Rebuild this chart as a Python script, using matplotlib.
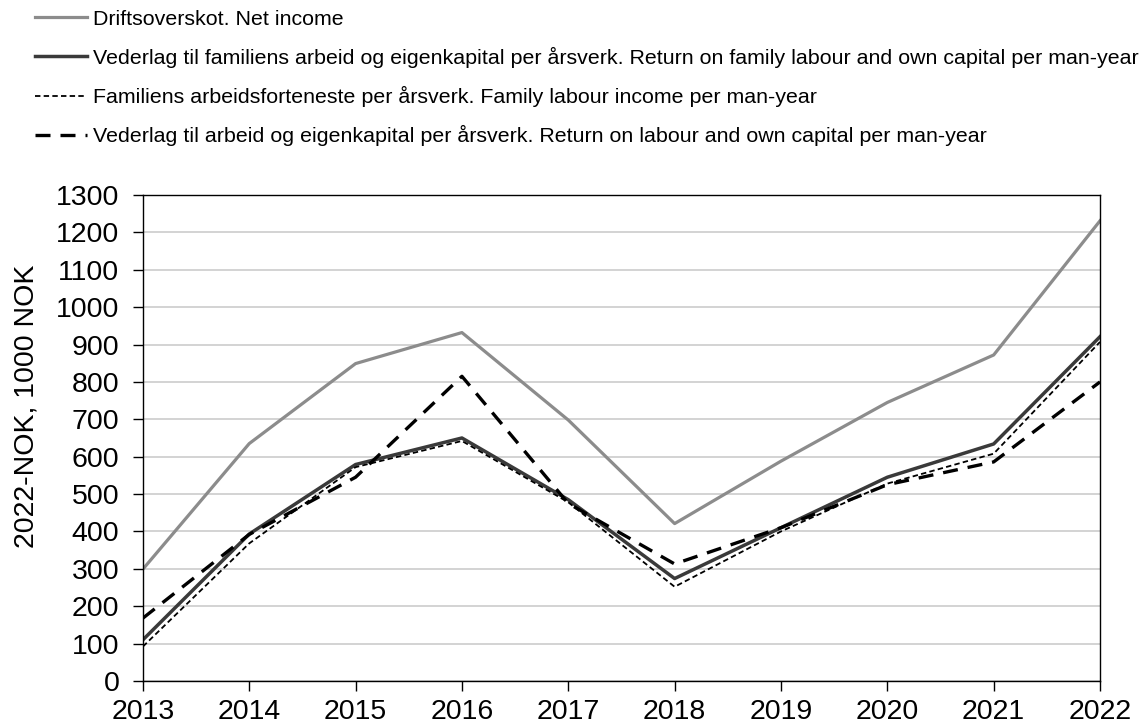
import matplotlib.pyplot as plt

plt.rcParams['font.family'] = ['Liberation Sans', 'DejaVu Sans']

years = [2013, 2014, 2015, 2016, 2017, 2018, 2019, 2020, 2021, 2022]
net_income = [299, 635, 849, 932, 698, 421, 588, 745, 872, 1231]
return_family = [110, 393, 579, 650, 485, 274, 410, 545, 634, 921]
family_labour = [92, 368, 572, 642, 478, 252, 400, 528, 608, 907]
return_labour = [168, 392, 545, 815, 475, 313, 410, 525, 586, 800]

labels = [
    "Driftsoverskot. Net income",
    "Vederlag til familiens arbeid og eigenkapital per årsverk. Return on family labour and own capital per man-year",
    "Familiens arbeidsforteneste per årsverk. Family labour income per man-year",
    "Vederlag til arbeid og eigenkapital per årsverk. Return on labour and own capital per man-year",
]

fig = plt.figure(figsize=(11.43, 7.27), dpi=100)
ax = fig.add_axes([0.125, 0.0633, 0.8374, 0.6685])

ax.plot(years, net_income, color='#8c8c8c', lw=2.3, label=labels[0])
ax.plot(years, return_family, color='#3a3a3a', lw=2.5, label=labels[1])
ax.plot(years, family_labour, color='black', lw=1.3, dashes=(3, 1.8), label=labels[2])
ax.plot(years, return_labour, color='black', lw=2.4, dashes=(4.5, 3), label=labels[3])

ax.set_xlim(2013, 2022)
ax.set_ylim(0, 1300)
ax.set_xticks(years)
ax.set_yticks(range(0, 1301, 100))
ax.tick_params(labelsize=20.5, direction='out', length=7, width=1)
ax.tick_params(axis='x', pad=6)
ax.tick_params(axis='y', pad=10)
ax.grid(axis='y', color='#cccccc', lw=1.2)
ax.set_axisbelow(True)
for s in ax.spines.values():
    s.set_color('black')
    s.set_linewidth(1)

ax.set_ylabel("2022-NOK, 1000 NOK", fontsize=20.5)
ax.yaxis.set_label_coords(-0.108, 0.566)

fig.legend(loc='upper left', bbox_to_anchor=(0.0225, 1.0), frameon=False,
           fontsize=15.4, handlelength=2.4, handletextpad=0.3, labelspacing=0.85,
           borderaxespad=0.05)

fig.savefig('out.png', dpi=100)
